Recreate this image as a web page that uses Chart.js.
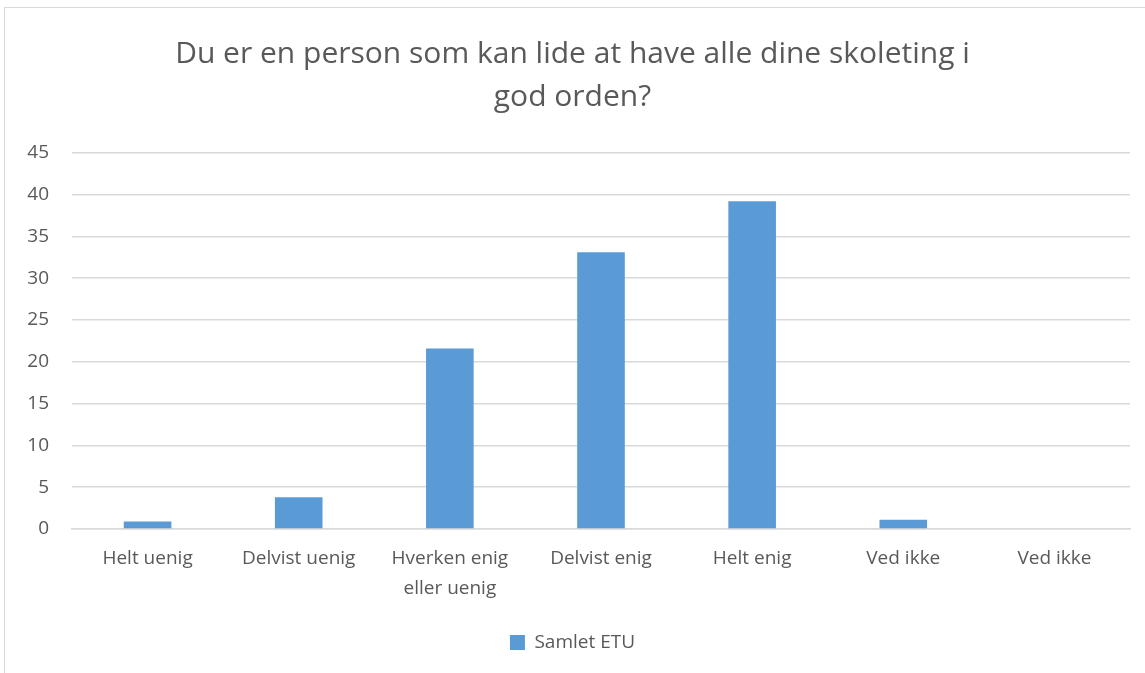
<!DOCTYPE html>
<html>
<head>
<meta charset="utf-8">
<script src="https://cdn.jsdelivr.net/npm/chart.js@4/dist/chart.umd.min.js"></script>
<style>
  body { margin: 0; background: #fff; }
  #wrap { position: absolute; left: 4px; top: 7px; width: 1145px; height: 680px; border: 1px solid #d9d9d9; box-sizing: border-box; }
</style>
</head>
<body>
<div id="wrap"><canvas id="chart"></canvas></div>
<script>
// data
var categories = ['Helt uenig', 'Delvist uenig', ['Hverken enig', 'eller uenig'], 'Delvist enig', 'Helt enig', 'Ved ikke', 'Ved ikke']
var samletEtu = [0.9, 3.8, 21.6, 33.1, 39.2, 1.1, 0]
var seriesName = 'Samlet ETU'
var titleLines = ['Du er en person som kan lide at have alle dine skoleting i', 'god orden?']

var textColor = '#595959'
var fontFamily = "'Open Sans', 'Liberation Sans', sans-serif"

var ctx = document.getElementById('chart').getContext('2d')
var chart = new Chart(ctx, {
  type: 'bar',
  data: {
    labels: categories,
    datasets: [
      {
        label: seriesName,
        data: samletEtu,
        backgroundColor: '#5b9bd5',
        categoryPercentage: 1,
        barPercentage: 0.315,
      },
    ],
  },
  options: {
    responsive: true,
    maintainAspectRatio: false,
    animation: false,
    layout: { padding: { left: 10, right: 18, top: 14, bottom: 24 } },
    plugins: {
      title: {
        display: true,
        text: titleLines,
        color: textColor,
        font: { family: fontFamily, size: 30, weight: 'normal', lineHeight: 1.43 },
        padding: { top: 11, bottom: 34 },
      },
      legend: {
        position: 'bottom',
        labels: {
          color: textColor,
          font: { family: fontFamily, size: 19 },
          boxWidth: 15,
          boxHeight: 15,
          padding: 22,
        },
      },
      tooltip: { enabled: false },
    },
    scales: {
      x: {
        grid: { display: false },
        border: { color: '#d9d9d9', width: 1.5 },
        ticks: { color: textColor, font: { family: fontFamily, size: 19, lineHeight: 1.58 }, maxRotation: 0, padding: 7 },
      },
      y: {
        min: 0,
        max: 45,
        afterFit: function (scale) { scale.width = 57 },
        ticks: { stepSize: 5, color: textColor, font: { family: fontFamily, size: 19 }, padding: 23 },
        grid: { color: '#d9d9d9', lineWidth: 1.5, drawTicks: false },
        border: { display: false },
      },
    },
  },
})
</script>
</body>
</html>
